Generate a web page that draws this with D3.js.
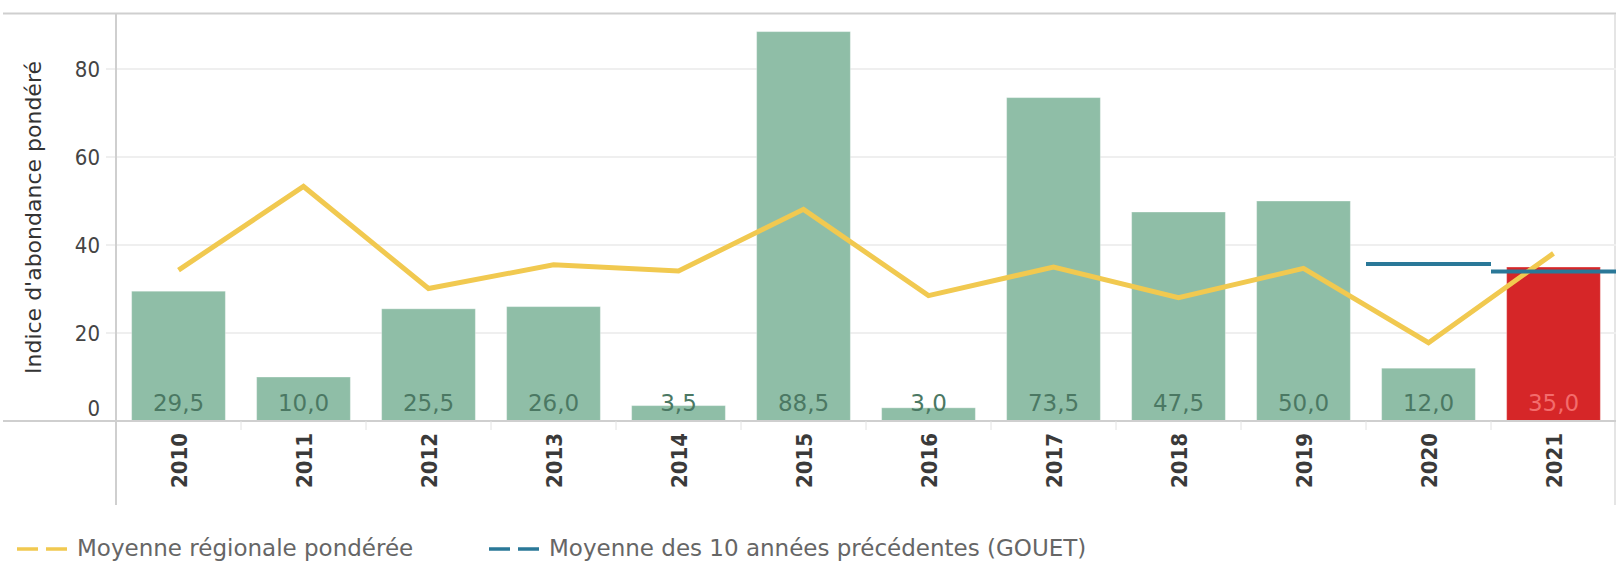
<!DOCTYPE html>
<html>
<head>
<meta charset="utf-8">
<script src="https://cdn.jsdelivr.net/npm/d3@7"></script>
<style>
  body { margin: 0; background: #fff; }
  svg { display: block; }
</style>
</head>
<body>
<div id="d3-container"></div>
<script>
// values
const years = ["2010", "2011", "2012", "2013", "2014", "2015", "2016", "2017", "2018", "2019", "2020", "2021"];
const abondance = [29.5, 10.0, 25.5, 26.0, 3.5, 88.5, 3.0, 73.5, 47.5, 50.0, 12.0, 35.0];
const moyenneRegionale = [34.3, 53.3, 30.1, 35.5, 34.1, 48.1, 28.5, 35.0, 28.0, 34.7, 17.8, 38.1];
const moyenneYears = ["2020", "2021"];
const moyenne10 = [35.7, 33.95];
const yTicks = [0, 20, 40, 60, 80];
const legendLabels = ["Moyenne régionale pondérée", "Moyenne des 10 années précédentes (GOUET)"];

const W = 1616, H = 574;
const margin = { top: 14, left: 116, right: 0, bottom: 153 };
const height = H - margin.top - margin.bottom;

const svg = d3.select('#d3-container')
  .append('svg')
  .attr('width', W)
  .attr('height', H);

const x = d3.scaleBand()
  .domain(years)
  .range([margin.left, W - margin.right])
  .paddingInner(0.25)
  .paddingOuter(0.125);

const y = d3.scaleLinear()
  .domain([0, 92.5])
  .range([margin.top + height, margin.top]);

const font = "'DejaVu Sans Condensed', 'DejaVu Sans', sans-serif";
const fontWide = "'DejaVu Sans', sans-serif";

// frame lines
svg.append("line")
  .attr("x1", 3).attr("x2", W)
  .attr("y1", 13.5).attr("y2", 13.5)
  .attr("stroke", "#cfcfcf").attr("stroke-width", 2);
svg.append("line")
  .attr("x1", W - 1).attr("x2", W - 1)
  .attr("y1", 14).attr("y2", 505)
  .attr("stroke", "#dcdcdc").attr("stroke-width", 1.5);

// grid
svg.append("g")
  .selectAll("line")
  .data(yTicks.filter(d => d > 0))
  .join("line")
    .attr("x1", margin.left - 10).attr("x2", W)
    .attr("y1", d => y(d)).attr("y2", d => y(d))
    .attr("stroke", "#efefef").attr("stroke-width", 2);

// y axis
svg.append("g")
  .attr("transform", `translate(${margin.left},0)`)
  .call(d3.axisLeft(y).tickValues(yTicks).tickSize(0).tickPadding(16))
  .call(g => g.select(".domain").remove())
  .selectAll("text")
    .style("font-family", font)
    .style("font-size", "22px")
    .attr("fill", "#444")
    .attr("y", d => d === 0 ? -13 : 0);

svg.append("line")
  .attr("x1", margin.left).attr("x2", margin.left)
  .attr("y1", 14).attr("y2", 505)
  .attr("stroke", "#cfcfcf").attr("stroke-width", 2);

svg.append("text")
  .attr("transform", `translate(41, ${(margin.top + y(0)) / 2}) rotate(-90)`)
  .attr("text-anchor", "middle")
  .style("font-family", fontWide)
  .style("font-size", "22px")
  .attr("fill", "#333")
  .text("Indice d'abondance pondéré");

// bars
svg.append("g")
  .selectAll("rect")
  .data(years)
  .join("rect")
    .attr("x", d => x(d))
    .attr("y", (d, i) => y(abondance[i]))
    .attr("width", x.bandwidth())
    .attr("height", (d, i) => y(0) - y(abondance[i]))
    .attr("fill", d => d === "2021" ? "#d62628" : "#8fbea7")
    .attr("stroke", "#fff").attr("stroke-opacity", 0.35);

// value labels
svg.append("g")
  .selectAll("text")
  .data(years)
  .join("text")
    .attr("x", d => x(d) + x.bandwidth() / 2)
    .attr("y", y(0) - 10)
    .attr("text-anchor", "middle")
    .style("font-family", fontWide)
    .style("font-size", "23px")
    .attr("fill", d => d === "2021" ? "#f36c6c" : "#4b7863")
    .text((d, i) => abondance[i].toFixed(1).replace(".", ","));

// x axis
svg.append("line")
  .attr("x1", 3).attr("x2", W)
  .attr("y1", y(0)).attr("y2", y(0))
  .attr("stroke", "#cfcfcf").attr("stroke-width", 2);

svg.append("g")
  .selectAll("line")
  .data(years.slice(1))
  .join("line")
    .attr("x1", d => x(d) - x.step() * x.paddingInner() / 2)
    .attr("x2", d => x(d) - x.step() * x.paddingInner() / 2)
    .attr("y1", y(0)).attr("y2", y(0) + 9)
    .attr("stroke", "#e2e2e2");

svg.append("g")
  .selectAll("text")
  .data(years)
  .join("text")
    .attr("transform", d => `translate(${x(d) + x.bandwidth() / 2 + 8}, ${y(0) + 12}) rotate(-90)`)
    .attr("text-anchor", "end")
    .style("font-family", font)
    .style("font-size", "22px")
    .style("font-weight", "bold")
    .attr("fill", "#3a3a3a")
    .text(d => d);

// regional average line
const line = d3.line()
  .x((d, i) => x(years[i]) + x.bandwidth() / 2)
  .y(d => y(d));

svg.append("path")
  .datum(moyenneRegionale)
  .attr("fill", "none")
  .attr("stroke", "#f1c950")
  .attr("stroke-width", 5)
  .attr("stroke-linejoin", "miter")
  .attr("d", line);

// 10 previous years average
svg.append("g")
  .selectAll("line")
  .data(moyenneYears)
  .join("line")
    .attr("x1", d => x(d) - x.step() * x.paddingInner() / 2)
    .attr("x2", d => x(d) + x.bandwidth() + x.step() * x.paddingInner() / 2)
    .attr("y1", (d, i) => y(moyenne10[i]))
    .attr("y2", (d, i) => y(moyenne10[i]))
    .attr("stroke", "#2a7898")
    .attr("stroke-width", 4);

// legend
const legendColors = ["#f1c950", "#2a7898"];
const legendX = [17, 489];
const lg = svg.append("g")
  .selectAll("g")
  .data(legendLabels)
  .join("g")
    .attr("transform", (d, i) => `translate(${legendX[i]}, 549)`);

lg.append("line")
  .attr("x1", 0).attr("x2", 50)
  .attr("stroke", (d, i) => legendColors[i])
  .attr("stroke-width", 3.5)
  .attr("stroke-dasharray", "21,8");

lg.append("text")
  .attr("x", 60)
  .attr("y", 7)
  .style("font-family", fontWide)
  .style("font-size", "23px")
  .attr("fill", "#666")
  .text(d => d);
</script>
</body>
</html>
